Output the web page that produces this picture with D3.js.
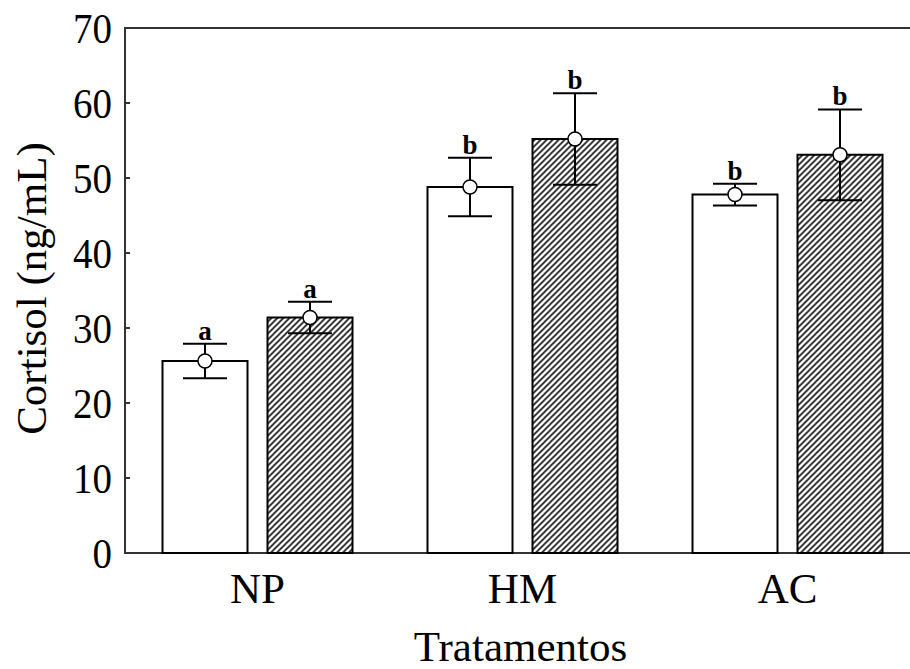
<!DOCTYPE html>
<html>
<head>
<meta charset="utf-8">
<script src="https://cdn.jsdelivr.net/npm/d3@7"></script>
<style>
  body { margin: 0; background: #fff; }
  text { font-family: "Liberation Serif", "Times New Roman", serif; fill: #000; }
</style>
</head>
<body>
<div id="chart"></div>
<script>
// data
var groups = ["NP", "HM", "AC"];
var seriesNames = ["white", "hatched"];
var meansWhite = [25.6, 48.8, 47.8];
var errWhite = [2.3, 3.9, 1.45];
var lettersWhite = ["a", "b", "b"];
var meansHatched = [31.4, 55.2, 53.1];
var errHatched = [2.1, 6.1, 6.05];
var lettersHatched = ["a", "b", "b"];
var yTicks = [0, 10, 20, 30, 40, 50, 60, 70];

var cfg = {
  w: 910,
  h: 669,
  margin: {top: 28, right: -10, bottom: 116, left: 125}
};

var graphW = cfg.w - cfg.margin.left - cfg.margin.right;
var graphH = cfg.h - cfg.margin.top - cfg.margin.bottom;

var rows = [];
groups.forEach(function(g, i) {
  rows.push({group: g, s: "white", mean: meansWhite[i], err: errWhite[i], letter: lettersWhite[i]});
  rows.push({group: g, s: "hatched", mean: meansHatched[i], err: errHatched[i], letter: lettersHatched[i]});
});

var svg = d3.select("#chart")
  .append("svg")
  .attr("width", cfg.w)
  .attr("height", cfg.h)
  .append("g")
  .attr("transform", "translate(" + cfg.margin.left + "," + cfg.margin.top + ")");

// hatch pattern
var pat = svg.append("defs").append("pattern")
  .attr("id", "hatch")
  .attr("patternUnits", "userSpaceOnUse")
  .attr("width", 6)
  .attr("height", 6);
pat.append("rect").attr("width", 6).attr("height", 6).attr("fill", "#fff");
pat.append("path")
  .attr("d", "M-1,1 L1,-1 M0,6 L6,0 M5,7 L7,5")
  .attr("stroke", "#111")
  .attr("stroke-width", 1.6);

var x = d3.scaleBand()
  .domain(groups)
  .range([0, graphW]);

var xSub = d3.scaleBand()
  .domain(seriesNames)
  .range([37.5, x.bandwidth() - 37.5])
  .paddingInner(20 / 105);

var y = d3.scaleLinear()
  .domain([0, 70])
  .range([graphH, 0]);

// frame
svg.append("rect")
  .attr("x", 0)
  .attr("y", 0)
  .attr("width", graphW)
  .attr("height", graphH)
  .attr("fill", "none")
  .attr("stroke", "#333")
  .attr("stroke-width", 2);

// y axis ticks (inward) + labels
svg.selectAll(".ytick")
  .data(yTicks)
  .enter().append("line")
  .attr("x1", 0)
  .attr("x2", 5)
  .attr("y1", function(d) { return y(d); })
  .attr("y2", function(d) { return y(d); })
  .attr("stroke", "#333")
  .attr("stroke-width", 2);

svg.selectAll(".ylab")
  .data(yTicks)
  .enter().append("text")
  .attr("transform", function(d) { return "translate(-13," + y(d) + ") scale(1,1.1)"; })
  .attr("dy", "0.35em")
  .attr("text-anchor", "end")
  .attr("font-size", "39px")
  .text(function(d) { return d; });

// bars
var bars = svg.selectAll(".bar")
  .data(rows)
  .enter().append("g")
  .attr("transform", function(d) { return "translate(" + (x(d.group) + xSub(d.s)) + ",0)"; });

bars.append("rect")
  .attr("x", 0)
  .attr("y", function(d) { return y(d.mean); })
  .attr("width", xSub.bandwidth())
  .attr("height", function(d) { return graphH - y(d.mean); })
  .attr("fill", function(d) { return d.s === "white" ? "#fff" : "url(#hatch)"; })
  .attr("stroke", "#000")
  .attr("stroke-width", 2);

var cx = xSub.bandwidth() / 2;

// error bars
bars.append("line")
  .attr("x1", cx).attr("x2", cx)
  .attr("y1", function(d) { return y(d.mean - d.err); })
  .attr("y2", function(d) { return y(d.mean + d.err); })
  .attr("stroke", "#000")
  .attr("stroke-width", 2);

bars.append("line")
  .attr("x1", cx - 22).attr("x2", cx + 22)
  .attr("y1", function(d) { return y(d.mean + d.err); })
  .attr("y2", function(d) { return y(d.mean + d.err); })
  .attr("stroke", "#000")
  .attr("stroke-width", 2);

bars.append("line")
  .attr("x1", cx - 22).attr("x2", cx + 22)
  .attr("y1", function(d) { return y(d.mean - d.err); })
  .attr("y2", function(d) { return y(d.mean - d.err); })
  .attr("stroke", "#000")
  .attr("stroke-width", 2);

// mean markers
bars.append("circle")
  .attr("cx", cx)
  .attr("cy", function(d) { return y(d.mean); })
  .attr("r", 7)
  .attr("fill", "#fff")
  .attr("stroke", "#000")
  .attr("stroke-width", 1.5);

// significance letters
bars.append("text")
  .attr("x", cx)
  .attr("y", function(d) { return y(d.mean + d.err) - 4; })
  .attr("text-anchor", "middle")
  .attr("font-size", "27px")
  .attr("font-weight", "bold")
  .text(function(d) { return d.letter; });

// category labels
svg.selectAll(".xlab")
  .data(groups)
  .enter().append("text")
  .attr("x", function(d) { return x(d) + x.bandwidth() / 2; })
  .attr("y", graphH + 50)
  .attr("text-anchor", "middle")
  .attr("font-size", "43px")
  .text(function(d) { return d; });

// axis titles
svg.append("text")
  .attr("x", 520.5 - cfg.margin.left)
  .attr("y", graphH + 108)
  .attr("text-anchor", "middle")
  .attr("font-size", "43px")
  .text("Tratamentos");

svg.append("text")
  .attr("transform", "translate(" + (46 - cfg.margin.left) + "," + (288.5 - cfg.margin.top) + ") rotate(-90)")
  .attr("text-anchor", "middle")
  .attr("font-size", "43px")
  .text("Cortisol (ng/mL)");
</script>
</body>
</html>
